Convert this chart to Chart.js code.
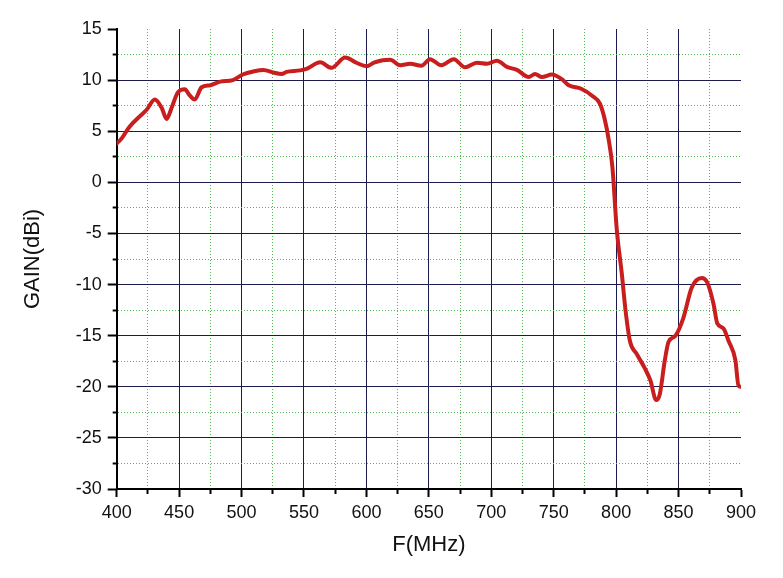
<!DOCTYPE html>
<html>
<head>
<meta charset="utf-8">
<script src="https://cdn.jsdelivr.net/npm/chart.js@4.4.1/dist/chart.umd.min.js"></script>
<style>
  html, body { margin: 0; padding: 0; background: #ffffff; }
  #wrap { width: 783px; height: 578px; position: relative; }
</style>
</head>
<body>
<div id="wrap"><canvas id="c"></canvas></div>
<script>
// Frequency (MHz) sample points
const freqMHz = [400, 404, 410, 418, 424, 430.5, 436, 440, 444, 449, 454.5, 458.5, 462.5, 468, 475, 483, 493, 501, 509.5, 517.5,
  525.5, 532, 536, 547, 552, 563, 572, 583, 592, 600, 606, 613, 619, 627, 635, 644, 651, 660, 670, 679,
  688.5, 696.5, 704.5, 712.5, 720.5, 730, 735, 740.5, 748.5, 756.5, 762, 772, 781, 787, 791, 794, 797, 800.5, 804.5, 807.5,
  811, 816.5, 823, 827.5, 832, 835, 839, 842, 847.5, 854, 860.5, 868.5, 873, 878, 881, 886, 890, 895.5, 898, 900];
// Gain (dBi) at each frequency
const gainDBi = [3.8, 4.3, 5.4, 6.4, 7.1, 8.1, 7.3, 6.2, 7.3, 8.8, 9.1, 8.5, 8.1, 9.3, 9.5, 9.85, 10.0, 10.55, 10.85, 11.0,
  10.75, 10.6, 10.8, 10.95, 11.1, 11.75, 11.2, 12.2, 11.7, 11.35, 11.7, 11.95, 12.0, 11.45, 11.6, 11.4, 12.05, 11.45, 12.05, 11.25,
  11.7, 11.6, 11.9, 11.3, 11.0, 10.3, 10.6, 10.3, 10.55, 10.1, 9.5, 9.15, 8.45, 7.7, 6.1, 4.2, 1.5, -4.6, -8.9, -12.5,
  -15.5, -16.8, -18.2, -19.4, -21.3, -20.7, -17.4, -15.6, -15.0, -13.2, -10.3, -9.35, -9.8, -11.9, -13.8, -14.3, -15.5, -17.4, -19.9, -20.0];

// Axis ranges and tick steps
const xRange = [400, 900];
const xMajorStep = 50;
const xMinorStep = 25;
const yRange = [-30, 15];
const yMajorStep = 5;
const yMinorStep = 2.5;

const xTitle = 'F(MHz)';
const yTitle = 'GAIN(dBi)';

const points = freqMHz.map((f, i) => ({ x: f, y: gainDBi[i] }));

const FONT = '"Liberation Sans", Arial, sans-serif';
const MAJOR = '#1b1b4d';
const MINOR = '#4fb84f';

function isMajor(v, step) { return Math.abs(v / step - Math.round(v / step)) < 1e-6; }

function gridColor(range, step) {
  return (ctx) => {
    if (!ctx.tick) return MAJOR;
    const v = ctx.tick.value;
    if (Math.abs(v - range[0]) < 1e-6 || Math.abs(v - range[1]) < 1e-6) return 'rgba(0,0,0,0)';
    return isMajor(v, step) ? MAJOR : MINOR;
  };
}
function gridDash(step) {
  return (ctx) => {
    if (!ctx.tick) return [];
    return isMajor(ctx.tick.value, step) ? [] : [1, 2];
  };
}

new Chart(document.getElementById('c'), {
  type: 'line',
  data: {
    datasets: [{
      data: points,
      borderColor: '#c81e1e',
      borderWidth: 4,
      pointRadius: 0,
      fill: false,
      cubicInterpolationMode: 'monotone',
      borderCapStyle: 'round',
      borderJoinStyle: 'round'
    }]
  },
  options: {
    responsive: true,
    maintainAspectRatio: false,
    animation: false,
    layout: { padding: { left: 0, right: 42, top: 29, bottom: 0 } },
    plugins: { legend: { display: false }, tooltip: { enabled: false } },
    scales: {
      x: {
        type: 'linear',
        min: xRange[0], max: xRange[1],
        afterFit: (s) => { s.height = 89; },
        ticks: {
          stepSize: xMinorStep,
          autoSkip: false,
          maxRotation: 0,
          padding: 5,
          color: '#111',
          font: { family: FONT, size: 18 },
          callback: (v) => isMajor(v, xMajorStep) ? String(v) : ''
        },
        grid: {
          color: gridColor(xRange, xMajorStep),
          lineWidth: 1,
          tickLength: 8,
          tickWidth: 2,
          tickColor: '#000',
          tickBorderDash: (ctx) => (ctx.tick && !isMajor(ctx.tick.value, xMajorStep)) ? [4, 100] : []
        },
        border: { display: true, color: '#000', width: 2, dash: gridDash(xMajorStep) },
        title: { display: true, text: xTitle, color: '#111', font: { family: FONT, size: 22 }, padding: { top: 4, bottom: 20 } }
      },
      y: {
        type: 'linear',
        min: yRange[0], max: yRange[1],
        afterFit: (s) => { s.width = 116.7; },
        ticks: {
          stepSize: yMinorStep,
          autoSkip: false,
          padding: 6,
          color: '#111',
          font: { family: FONT, size: 18 },
          callback: (v) => isMajor(v, yMajorStep) ? String(v) : ''
        },
        grid: {
          color: gridColor(yRange, yMajorStep),
          lineWidth: 1,
          tickLength: 9,
          tickWidth: 2,
          tickColor: '#000',
          tickBorderDash: (ctx) => (ctx.tick && !isMajor(ctx.tick.value, yMajorStep)) ? [0, 5, 4, 100] : []
        },
        border: { display: true, color: '#000', width: 2, dash: gridDash(yMajorStep) },
        title: { display: true, text: yTitle, color: '#111', font: { family: FONT, size: 22 }, padding: { top: 20, bottom: 4 } }
      }
    }
  }
});
</script>
</body>
</html>
